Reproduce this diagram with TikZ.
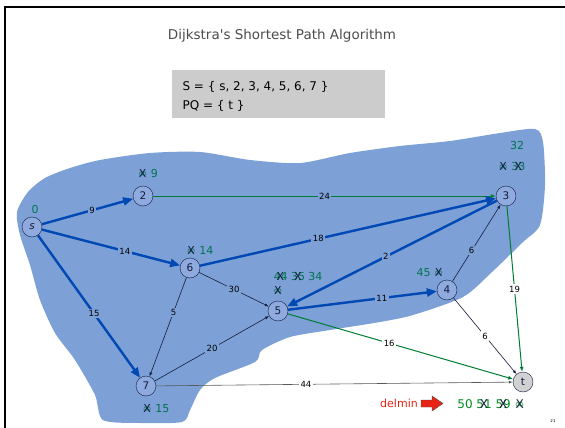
\documentclass[tikz,border=0pt]{standalone}
\usepackage{fontspec}
\setmainfont{DejaVu Sans}[Ligatures=TeXOff]
\usetikzlibrary{arrows.meta}

\definecolor{blobblue}{RGB}{125,160,214}
\definecolor{nodeblue}{RGB}{143,170,222}
\definecolor{pathblue}{RGB}{0,72,180}
\definecolor{edgegreen}{RGB}{0,125,50}
\definecolor{distgreen}{RGB}{0,115,80}
\definecolor{delgreen}{RGB}{0,140,30}
\definecolor{delred}{RGB}{230,35,20}
\definecolor{boxgray}{RGB}{204,204,204}
\definecolor{inkdark}{RGB}{20,30,60}

% strike a value out with an X
\newcommand{\crossed}[1]{\ooalign{#1\cr\hidewidth\textcolor{inkdark}{X}\hidewidth\cr}}

\begin{document}
\begin{tikzpicture}[x=1pt, y=-1pt,
    % Define the styles for vertices and edges
    vertex/.style={circle, draw=inkdark, fill=nodeblue, minimum size=20pt,
        inner sep=0pt, text=inkdark, font=\fontsize{10.5}{10.5}\selectfont},
    heavy/.style={draw=pathblue, line width=2.4pt, -{Triangle[length=10pt,width=8pt]}},
    light/.style={draw=inkdark, line width=0.6pt, -{Latex[length=4pt,width=3pt]}},
    greenedge/.style={draw=edgegreen, line width=1pt, -{Latex[length=5pt,width=4pt]}},
    weight/.style={fill=blobblue, inner sep=1.5pt, text=black, font=\fontsize{8.5}{8.5}\selectfont},
    weightout/.style={weight, fill=white},
    dist/.style={text=distgreen, inner sep=0pt, font=\fontsize{11}{11}\selectfont}
]
\useasboundingbox (0,0) rectangle (565,428);

% Slide frame
\draw[line width=2.5pt] (565,7) -- (5,7) -- (5,428);

% Title and the sets
\node[text=black!70, font=\fontsize{13.5}{14}\selectfont] (title) at (282,36) {Dijkstra's Shortest Path Algorithm};
\fill[boxgray] (172,70) rectangle (385,118);
\node[anchor=base west, font=\fontsize{12}{12}\selectfont] (S) at (179,91) {S = \{ s, 2, 3, 4, 5, 6, 7 \}};
\node[anchor=base west, font=\fontsize{12}{12}\selectfont] (PQ) at (179,109) {PQ = \{ t \}};

% The explored region
\fill[blobblue] plot[smooth cycle, tension=0.45] coordinates {
    (17,212) (28,192) (45,178) (70,168) (100,160) (150,153) (200,152)
    (250,160) (300,163) (350,153) (400,146) (450,141) (500,133) (535,129)
    (543,142) (545,185) (540,225) (523,242) (492,272) (463,297) (413,315)
    (380,322) (330,330) (290,337) (262,350) (255,362) (215,378) (200,390)
    (190,410) (182,422) (140,423) (103,420) (95,395) (75,360) (55,333)
    (40,300) (30,265) (20,235)};

% Vertices
\node[vertex] (s) at (32,227) {\textit{s}};
\node[vertex] (2) at (143,196) {2};
\node[vertex] (3) at (506,196) {3};
\node[vertex] (6) at (190,268) {6};
\node[vertex] (5) at (278,311) {5};
\node[vertex] (4) at (447,290) {4};
\node[vertex] (7) at (146,386) {7};
\node[vertex, fill=black!18] (t) at (523,382) {t};

% Edges
\draw[heavy] (s) -- node[weight, pos=0.55] {9} (2);
\draw[heavy] (s) -- node[weight, pos=0.6] {14} (6);
\draw[heavy] (s) -- node[weight, pos=0.55] {15} (7);
\draw[greenedge] (2) -- node[weight] {24} (3);
\draw[heavy] (6) -- node[weight, pos=0.4] {18} (3);
\draw[light] (6) -- node[weight] {30} (5);
\draw[light] (6) -- node[weight, pos=0.35] {5} (7);
\draw[light] (7) -- node[weight] {20} (5);
\draw[heavy] (3) -- node[weight, pos=0.53] {2} (5);
\draw[heavy] (5) -- node[weight, pos=0.63] {11} (4);
\draw[light] (4) -- node[weight, pos=0.4] {6} (3);
\draw[light] (4) -- node[weightout] {6} (t);
\draw[greenedge] (3) -- node[weightout] {19} (t);
\draw[greenedge] (5) -- node[weightout, pos=0.45] {16} (t);
\draw[light, draw=black!65] (7) -- node[weightout, pos=0.42] {44} (t);

% Distance labels
\node[dist] (ds) at (35,209) {0};
\node[dist] (d2) at (148,173) {\crossed{∞}\ 9};
\node[dist] (d6) at (200,250) {\crossed{∞}\ 14};
\node[dist] (d5a) at (298,276) {\crossed{44} \crossed{35} 34};
\node[dist] (d5b) at (278,292) {\crossed{∞}};
\node[dist] (d3a) at (517,145) {32};
\node[dist] (d3b) at (512,166) {\crossed{∞} \crossed{33}};
\node[dist] (d4) at (430,273) {45 \crossed{∞}};
\node[dist] (d7) at (156,409) {\crossed{∞}\ 15};

% delmin
\node[text=delred, font=\fontsize{11}{11}\selectfont] (delmin) at (399,403) {delmin};
\draw[fill=delred, draw=black!70] (421,400) -- (432,400) -- (432,396) -- (443,403.5)
    -- (432,411) -- (432,407) -- (421,407) -- cycle;
\node[dist, text=delgreen, font=\fontsize{12}{12}\selectfont] (dt) at (491,404) {50 \crossed{51} \crossed{59} \crossed{∞}};

\node[font=\fontsize{4}{4}\selectfont] (page) at (553,421) {21};
\end{tikzpicture}
\end{document}
